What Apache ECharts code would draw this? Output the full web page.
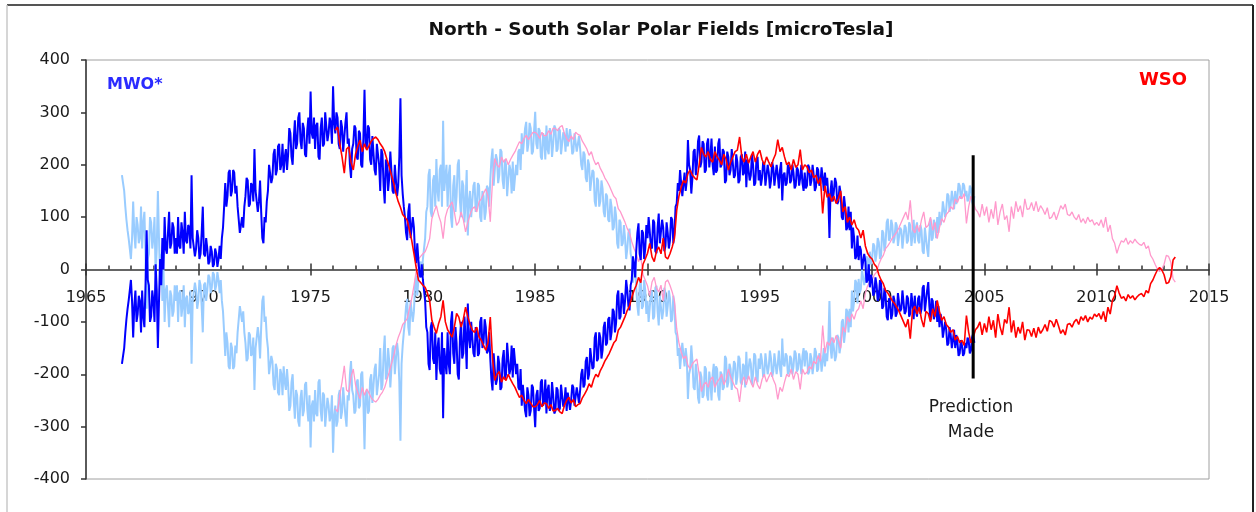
<!DOCTYPE html>
<html>
<head>
<meta charset="utf-8">
<script src="https://cdn.jsdelivr.net/npm/echarts@6/dist/echarts.min.js"></script>
<style>
html,body{margin:0;padding:0;background:#fff;}
#chart{width:1256px;height:512px;}
</style>
</head>
<body>
<div id="chart"></div>
<script>
// ---- Data ----
const chartTitle = 'North - South Solar Polar Fields [microTesla]';
const xTickYears = [1965, 1970, 1975, 1980, 1985, 1990, 1995, 2000, 2005, 2010, 2015];
const yTickValues = [-400, -300, -200, -100, 0, 100, 200, 300, 400];

// MWO* (North - South), sampled every 0.05 year starting 1966.6
const mwoStartYear = 1966.6;
const mwoStep = 0.05;
const mwoValues = [
  -180, -165, -150, -120, -95, -75, -59, -40,
  -20, -60, -130, -70, -40, -100, -85, -50, -60, -120, -40, -90, -110, -30, 75, -20, -30, -100, -90, -40,
  -60, -100, 10, -40, -150, -60, 20, -30, 60, 0, 100, 40, 30, 70, 110, 40, 50, 90, 80, 30,
  60, 30, 100, 45, 40, 90, 70, 30, 110, 55, 50, 85, 80, 40, 180, 60, 60, 25, 40, 75,
  60, 20, 30, 70, 120, 30, 25, 60, 40, 10, 15, 45, 35, 5, 10, 40, 30, 5, 20, 45,
  20, 60, 80, 120, 165, 120, 140, 185, 190, 140, 150, 190, 185, 145, 160, 120, 95, 70, 70, 100,
  80, 120, 140, 175, 170, 120, 125, 165, 160, 130, 230, 150, 150, 110, 130, 170, 110, 60, 50, 100,
  90, 130, 150, 200, 200, 165, 175, 220, 230, 180, 190, 235, 240, 190, 200, 240, 185, 215, 230, 190,
  220, 270, 260, 215, 200, 250, 285, 230, 240, 290, 300, 245, 230, 280, 270, 220, 215, 265, 290, 240,
  340, 260, 250, 290, 230, 275, 280, 215, 210, 270, 290, 235, 240, 300, 300, 245, 260, 290, 280, 240,
  350, 280, 260, 300, 290, 240, 230, 285, 272, 225, 222, 280, 300, 240, 250, 200, 175, 230, 240, 275,
  270, 215, 210, 265, 260, 200, 195, 250, 343, 240, 230, 275, 270, 210, 200, 255, 255, 190, 180, 240,
  240, 200, 150, 230, 220, 160, 126, 210, 200, 150, 175, 225, 222, 150, 145, 200, 200, 140, 160, 215,
  327, 180, 145, 120, 100, 70, 56, 110, 126, 60, 60, 100, 80, 30, 12, 50, 18, -10, -15, 10,
  -20, -40, -60, -110, -120, -180, -192, -110, -100, -170, -180, -120, -211, -150, -130, -190, -200, -120, -284, -150,
  -150, -200, -120, -180, -200, -100, -80, -160, -180, -110, -140, -200, -210, -130, -100, -170, -160, -90, -130, -190,
  -65, -130, -150, -100, -100, -160, -167, -110, -120, -165, -160, -100, -91, -150, -140, -95, -110, -160, -155, -120,
  -170, -210, -231, -160, -160, -220, -210, -165, -180, -230, -225, -170, -154, -210, -200, -140, -140, -200, -190, -145,
  -206, -150, -150, -200, -180, -225, -230, -190, -260, -220, -218, -270, -282, -225, -240, -280, -270, -220, -225, -265,
  -301, -240, -230, -270, -265, -215, -210, -260, -250, -210, -275, -230, -220, -270, -260, -215, -240, -275, -270, -225,
  -230, -270, -265, -220, -220, -262, -255, -225, -270, -235, -235, -268, -250, -220, -225, -260, -262, -225, -240, -255,
  -231, -200, -190, -225, -220, -175, -167, -210, -200, -150, -150, -190, -186, -130, -120, -175, -170, -120, -130, -170,
  -154, -110, -100, -145, -140, -95, -91, -135, -120, -75, -80, -120, -103, -50, -40, -95, -90, -45, -50, -85,
  -60, -20, -40, -70, -78, -30, -20, 25, 10, -15, 37, 70, 88, 30, 18, 75, 70, 20, 40, 85,
  60, 100, 100, 45, 40, 95, 90, 35, 31, 80, 107, 50, 50, 95, 80, 35, 45, 90, 70, 40,
  55, 100, 95, 50, 70, 120, 126, 165, 150, 190, 164, 140, 140, 185, 150, 170, 247, 200, 190, 145,
  175, 225, 230, 180, 200, 245, 256, 195, 205, 245, 240, 185, 190, 240, 250, 195, 215, 250, 200, 180,
  235, 185, 190, 240, 250, 195, 200, 230, 225, 165, 170, 225, 215, 180, 190, 230, 233, 175, 180, 220,
  205, 165, 170, 215, 220, 180, 185, 225, 157, 210, 210, 170, 180, 220, 200, 160, 165, 210, 215, 170,
  190, 160, 175, 205, 200, 160, 160, 200, 185, 155, 170, 205, 195, 160, 160, 200, 180, 155, 190, 205,
  132, 180, 185, 160, 165, 200, 195, 165, 170, 200, 185, 155, 160, 195, 190, 160, 175, 200, 165, 150,
  185, 155, 160, 200, 195, 160, 170, 200, 180, 150, 157, 195, 190, 160, 165, 195, 175, 150, 185, 160,
  175, 140, 60, 150, 170, 130, 150, 175, 165, 125, 130, 160, 145, 100, 95, 140, 120, 75, 80, 120,
  75, 110, 40, 80, 60, 20, 25, 65, 18, 45, 37, 0, 0, 30, 15, -25, -20, 10, -34, -10,
  -20, -50, -45, -15, -30, -60, -52, -20, -27, -75, -70, -35, -50, -90, -97, -55, -60, -95, -85, -50,
  -60, -90, -84, -45, -45, -80, -75, -40, -40, -85, -80, -50, -55, -90, -84, -45, -65, -95, -50, -80,
  -90, -55, -50, -85, -75, -35, -30, -80, -80, -40, -24, -70, -97, -55, -60, -95, -85, -60, -100, -70,
  -110, -85, -97, -130, -130, -100, -115, -145, -141, -110, -125, -150, -135, -115, -150, -125, -140, -165, -160, -135,
  -145, -165, -160, -140, -150, -130, -135, -160, -155, -130, -122, -140
];

// WSO (North - South), sampled every 0.1 year starting 1976.1
const wsoStartYear = 1976.1;
const wsoStep = 0.1;
const wsoValues = [
  266, 272, 240, 215, 184, 230, 234, 205, 190,
  220, 235, 247, 225, 240, 228, 236, 245, 250, 253,
  248, 240, 234, 225, 210, 196, 180, 165, 145, 130,
  119, 105, 100, 94, 75, 56, 31, 4, -20, -25,
  -30, -34, -45, -59, -97, -110, -122, -103, -90, -59,
  -100, -115, -122, -129, -110, -84, -91, -110, -95, -72,
  -90, -105, -116, -120, -110, -129, -135, -145, -154, -140,
  -91, -170, -212, -200, -195, -215, -205, -212, -200, -210,
  -218, -225, -235, -244, -240, -250, -256, -248, -255, -262,
  -262, -258, -250, -262, -255, -256, -265, -258, -270, -269,
  -265, -272, -275, -260, -250, -244, -255, -248, -262, -258,
  -256, -245, -238, -230, -218, -225, -210, -200, -205, -193,
  -185, -175, -168, -160, -150, -140, -135, -116, -110, -100,
  -90, -78, -70, -53, -40, -30, -15, -25, 10, 20,
  31, 50, 24, 15, 35, 43, 30, 60, 24, 20,
  30, 43, 60, 113, 140, 157, 170, 165, 183, 190,
  180, 175, 171, 200, 233, 220, 215, 225, 210, 205,
  225, 215, 209, 200, 220, 210, 190, 205, 215, 225,
  228, 253, 215, 205, 220, 203, 215, 225, 205, 220,
  228, 210, 200, 215, 205, 196, 210, 220, 248, 225,
  233, 215, 200, 205, 190, 210, 195, 200, 229, 190,
  200, 196, 185, 190, 175, 180, 164, 175, 107, 160,
  138, 145, 130, 140, 126, 135, 150, 110, 120, 90,
  100, 85, 95, 80, 75, 60, 75, 45, 31, 24,
  20, 10, 5, -10, -20, -27, -40, -45, -52, -60,
  -65, -72, -80, -90, -100, -110, -95, -132, -78, -70,
  -85, -72, -95, -110, -80, -84, -100, -75, -90, -59,
  -80, -97, -90, -105, -110, -120, -115, -135, -128, -140,
  -135, -145, -88, -120, -140, -130, -115, -110, -100, -125,
  -103, -120, -90, -115, -97, -130, -85, -110, -125, -95,
  -103, -72, -120, -97, -130, -110, -122, -100, -135, -115,
  -116, -128, -112, -130, -110, -122, -115, -105, -118, -97,
  -100, -110, -95, -108, -122, -115, -125, -105, -103, -110,
  -100, -95, -105, -90, -97, -88, -100, -91, -95, -85,
  -90, -84, -95, -80, -100, -72, -85, -59, -50, -31,
  -45, -55, -52, -60, -48, -55, -50, -58, -52, -48,
  -46, -52, -40, -45, -27, -20, -10, -1, 4, -1,
  -10, -27, -25, -14, 18, 24
];

// "Prediction Made" marker
const predictionYear = 2004.5;
const predictionTop = 218;
const predictionBottom = -208;

// ---- Build series data ----
function toPairs(start, step, values, sign) {
  return values.map((v, i) => [Math.round((start + i * step) * 1000) / 1000, sign * v]);
}
const mwoData = toPairs(mwoStartYear, mwoStep, mwoValues, 1);
const mwoMirror = toPairs(mwoStartYear, mwoStep, mwoValues, -1);
const wsoData = toPairs(wsoStartYear, wsoStep, wsoValues, 1);
const wsoMirror = toPairs(wsoStartYear, wsoStep, wsoValues, -1);
const predictionData = [[predictionYear, predictionTop], [predictionYear, predictionBottom]];

const FONT = '"DejaVu Sans", Verdana, sans-serif';
const chart = echarts.init(document.getElementById('chart'), null, {renderer: 'canvas'});

function lineSeries(name, data, color, width, z) {
  return {
    name, type: 'line', data, showSymbol: false, symbol: 'none',
    xAxisIndex: 0, yAxisIndex: 0,
    lineStyle: {color, width}, itemStyle: {color}, z, silent: true,
    animation: false
  };
}

const xMin = xTickYears[0], xMax = xTickYears[xTickYears.length - 1];
const yMin = yTickValues[0], yMax = yTickValues[yTickValues.length - 1];
const gridTop = 60, gridBottom = 33, chartH = 512;
const zeroPix = gridTop + (chartH - gridTop - gridBottom) * (yMax / (yMax - yMin));

chart.setOption({
  animation: false,
  backgroundColor: '#ffffff',
  grid: [
    {left: 86, right: 47, top: gridTop, bottom: gridBottom, show: true, borderColor: '#a0a0a0', borderWidth: 1, backgroundColor: 'transparent'},
    {left: 86, right: 47, top: gridTop, bottom: chartH - zeroPix, show: false}
  ],
  xAxis: [{
    gridIndex: 0, type: 'value', min: xMin, max: xMax, interval: 5,
    axisLine: {show: true, onZero: true, lineStyle: {color: '#333', width: 1.5}},
    axisTick: {show: true, inside: true, length: 6, lineStyle: {color: '#333', width: 1.5}},
    minorTick: {show: true, splitNumber: 5, length: 4, lineStyle: {color: '#333', width: 1.5}},
    axisLabel: {show: false},
    splitLine: {show: false}
  }, {
    gridIndex: 1, type: 'value', min: xMin, max: xMax, interval: 5, position: 'bottom',
    axisLine: {show: false, onZero: false},
    axisTick: {show: true, inside: false, length: 6, lineStyle: {color: '#333', width: 1.5}},
    axisLabel: {show: true, fontFamily: FONT, fontSize: 16, color: '#1a1a1a', margin: 20, formatter: v => String(v)},
    splitLine: {show: false}
  }],
  yAxis: [{
    gridIndex: 0, type: 'value', min: yMin, max: yMax, interval: 100,
    axisLine: {show: true, lineStyle: {color: '#333', width: 1.5}},
    axisTick: {show: true, inside: false, length: 5, lineStyle: {color: '#333', width: 1.5}},
    axisLabel: {fontFamily: FONT, fontSize: 16, color: '#1a1a1a', margin: 16},
    splitLine: {show: false}
  }, {
    gridIndex: 1, type: 'value', min: 0, max: 1, show: false
  }],
  series: [
    lineSeries('MWO mirror', mwoMirror, '#99ccff', 2, 2),
    lineSeries('WSO mirror', wsoMirror, '#ff99cc', 1.3, 3),
    lineSeries('MWO*', mwoData, '#0000ff', 2, 4),
    lineSeries('WSO', wsoData, '#ff0000', 1.6, 5),
    lineSeries('Prediction', predictionData, '#000000', 3, 6)
  ],
  graphic: [
    {type: 'line', shape: {x1: 7, y1: 5, x2: 1253, y2: 5}, style: {stroke: '#555', lineWidth: 2}, z: 10},
    {type: 'line', shape: {x1: 7, y1: 5, x2: 7, y2: 512}, style: {stroke: '#c8c8c8', lineWidth: 1.5}, z: 10},
    {type: 'line', shape: {x1: 1253, y1: 5, x2: 1253, y2: 512}, style: {stroke: '#222', lineWidth: 2}, z: 10},
    {type: 'text', x: 661, y: 30, style: {text: chartTitle, font: 'bold 18.5px ' + FONT, fill: '#111', align: 'center', verticalAlign: 'middle'}, z: 10},
    {type: 'text', x: 107, y: 85, style: {text: 'MWO*', font: 'bold 16px ' + FONT, fill: '#2b2bff', align: 'left', verticalAlign: 'middle'}, z: 10},
    {type: 'text', x: 1187, y: 80, style: {text: 'WSO', font: 'bold 18px ' + FONT, fill: '#ff0000', align: 'right', verticalAlign: 'middle'}, z: 10},
    {type: 'text', x: 971, y: 408, style: {text: 'Prediction', font: '17px ' + FONT, fill: '#1a1a1a', align: 'center', verticalAlign: 'middle'}, z: 10},
    {type: 'text', x: 971, y: 433, style: {text: 'Made', font: '17px ' + FONT, fill: '#1a1a1a', align: 'center', verticalAlign: 'middle'}, z: 10}
  ]
});
</script>
</body>
</html>
